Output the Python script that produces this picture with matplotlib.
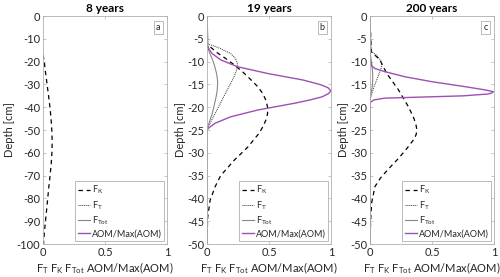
import matplotlib
matplotlib.use("Agg")
import matplotlib.pyplot as plt
import numpy as np

plt.rcParams['font.family'] = ['Lato', 'DejaVu Sans']
plt.rcParams['mathtext.default'] = 'regular'
plt.rcParams['axes.unicode_minus'] = False

titles = ['8 years', '19 years', '200 years']
letters = ['a', 'b', 'c']
ymins = [-100, -50, -50]

# panel a (8 years) - only F_K is visible
a_fk_depth = [-17, -20, -25, -30, -35, -40, -45, -50, -55, -60, -65, -70, -75, -80, -85, -90, -95, -100]
a_fk = [0, 0.01, 0.021, 0.033, 0.045, 0.056, 0.065, 0.071, 0.074, 0.072, 0.066, 0.057, 0.047, 0.038, 0.029, 0.02, 0.011, 0.004]

# panel b (19 years)
b_fk_depth = [0, -6, -6.4, -8, -9.3, -10.7, -12.3, -14, -15.5, -17, -18.6, -20.2, -21.5, -22.8, -24.2, -25.7, -28.7, -31.6, -35, -37.4, -40.4, -44, -47, -50]
b_fk = [0, 0, 0.01, 0.08, 0.15, 0.22, 0.29, 0.355, 0.41, 0.45, 0.477, 0.49, 0.488, 0.475, 0.452, 0.42, 0.33, 0.22, 0.11, 0.066, 0.025, 0.006, 0.002, 0]
b_ft_depth = [0, -6.2, -6.6, -7.1, -8.2, -9.3, -10.4, -11.3, -12.2, -13.5, -14.8, -16.2, -17.7, -20.6, -23.5, -24.6, -50]
b_ft = [0, 0.01, 0.06, 0.107, 0.19, 0.23, 0.245, 0.243, 0.235, 0.215, 0.19, 0.163, 0.135, 0.08, 0.025, 0, 0]
b_ftot_depth = [0, -6.5, -8, -9.6, -11, -12.6, -13.8, -14.8, -16, -17.2, -18.4, -21.3, -23.5, -24.8, -50]
b_ftot = [0, 0, 0.02, 0.045, 0.062, 0.077, 0.084, 0.086, 0.083, 0.077, 0.068, 0.043, 0.016, 0, 0]
b_aom_depth = [0, -6, -7.2, -8.2, -9.6, -11.1, -12.6, -14.0, -15.0, -15.7, -16.4, -17.0, -17.7, -18.4, -19.1, -20.6, -22.1, -23.5, -24.6, -25.2, -50]
b_aom = [0, 0, 0.015, 0.04, 0.11, 0.245, 0.49, 0.77, 0.91, 0.975, 1.0, 0.98, 0.93, 0.83, 0.71, 0.41, 0.19, 0.066, 0.01, 0, 0]

# panel c (200 years)
c_fk_depth = [0, -7.8, -9.6, -12.6, -16.2, -19.9, -22.5, -24, -25, -26, -27, -29.3, -31.5, -33.5, -35.5, -37.4, -41, -45, -50]
c_fk = [0, 0.01, 0.08, 0.135, 0.23, 0.31, 0.355, 0.372, 0.378, 0.372, 0.355, 0.29, 0.22, 0.15, 0.085, 0.04, 0.013, 0.005, 0]
c_ft_depth = [0, -7.8, -8.3, -9.0, -9.8, -10.6, -11.4, -12.2, -14.0, -15.9, -18.0, -50]
c_ft = [0, 0.01, 0.04, 0.067, 0.087, 0.094, 0.09, 0.08, 0.054, 0.027, 0.004, 0]
c_ftot_depth = [0, -8, -10, -12, -13.5, -15, -16.5, -18, -50]
c_ftot = [0, 0, 0.012, 0.02, 0.022, 0.02, 0.012, 0, 0]
c_aom_depth = [0, -9.6, -11.0, -11.5, -12.2, -13.3, -14.4, -15.5, -16.2, -16.6, -16.9, -17.1, -17.5, -17.7, -18.0, -18.4, -19, -50]
c_aom = [0, 0, 0.015, 0.04, 0.12, 0.28, 0.50, 0.77, 0.93, 0.995, 0.98, 0.95, 0.75, 0.50, 0.12, 0.03, 0, 0]

panels = [
    (a_fk_depth, a_fk, [], [], [], [], [], []),
    (b_fk_depth, b_fk, b_ft_depth, b_ft, b_ftot_depth, b_ftot, b_aom_depth, b_aom),
    (c_fk_depth, c_fk, c_ft_depth, c_ft, c_ftot_depth, c_ftot, c_aom_depth, c_aom),
]

purple = '#9e4fb5'
spine_col = '#b0b0b0'
txt_col = '#262626'

fig = plt.figure(figsize=(5, 2.77), dpi=100)
lefts = [0.086, 0.414, 0.74]

for i in range(3):
    ax = fig.add_axes([lefts[i], 0.119, 0.248, 0.823])
    fkd, fk, ftd, ft, fotd, fot, aomd, aom = panels[i]
    ax.plot(fk, fkd, color='black', lw=0.9, ls=(0, (3.5, 3)), label='F$_K$')
    ax.plot(ft, ftd, color='#333333', lw=0.7, ls=(0, (1, 1)), label='F$_T$')
    ax.plot(fot, fotd, color='#888888', lw=0.8, label='F$_{Tot}$')
    ax.plot(aom, aomd, color=purple, lw=1.0, label='AOM/Max(AOM)')

    ax.set_xlim(0, 1)
    ax.set_ylim(ymins[i], 0)
    ax.set_xticks([0, 0.5, 1])
    ax.set_xticklabels(['0', '0.5', '1'])
    step = 10 if ymins[i] == -100 else 5
    ax.set_yticks(np.arange(ymins[i], 1, step))
    ax.tick_params(direction='in', top=True, right=True, length=2.5, width=0.5,
                   colors=spine_col, labelcolor=txt_col, labelsize=8, pad=2)
    for s in ax.spines.values():
        s.set_color(spine_col)
        s.set_linewidth(0.6)

    ax.set_title(titles[i], fontsize=8.5, fontweight='bold', color='black', pad=3)
    ax.set_xlabel('F$_T$ F$_K$ F$_{Tot}$ AOM/Max(AOM)', fontsize=8, color=txt_col, labelpad=2)
    ax.set_ylabel('Depth [cm]', fontsize=8, color=txt_col, labelpad=1)

    ax.text(0.93, 0.95, letters[i], transform=ax.transAxes, fontsize=6.5, color=txt_col,
            ha='center', va='center',
            bbox=dict(boxstyle='square,pad=0.25', fc='white', ec=spine_col, lw=0.6))

    leg = ax.legend(loc='lower right', fontsize=6.5, handlelength=1.3, handletextpad=0.2,
                    labelspacing=0.3, borderpad=0.3, borderaxespad=0.3, fancybox=False,
                    edgecolor=spine_col, framealpha=1)
    leg.get_frame().set_linewidth(0.6)
    for t in leg.get_texts():
        t.set_color(txt_col)

fig.savefig('out.png', dpi=100)
